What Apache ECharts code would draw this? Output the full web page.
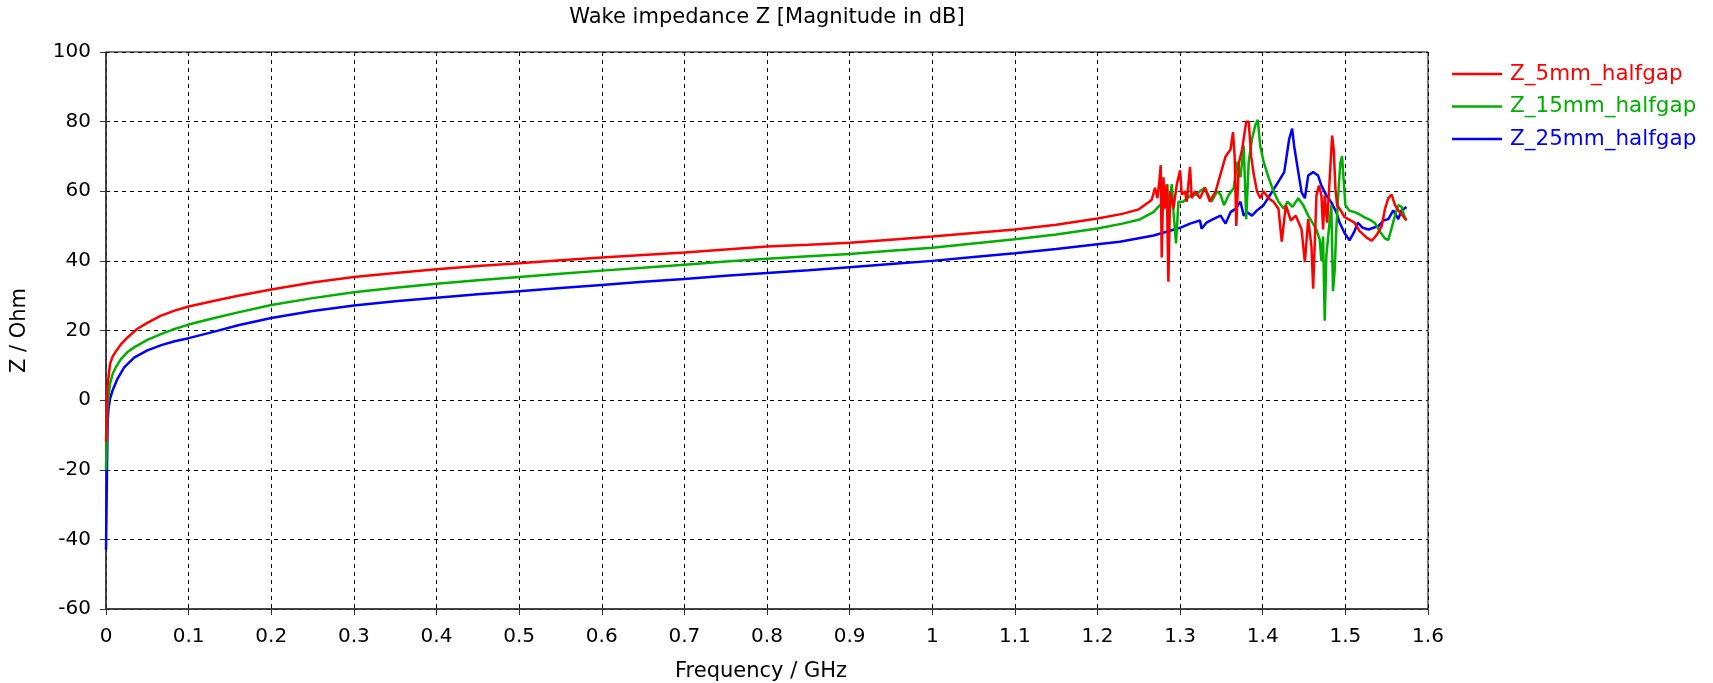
<!DOCTYPE html>
<html>
<head>
<meta charset="utf-8">
<title>Wake impedance Z</title>
<script src="https://cdn.jsdelivr.net/npm/echarts@6/dist/echarts.min.js"></script>
<style>
  html, body { margin: 0; padding: 0; background: #fff; }
  #chart { width: 1713px; height: 683px; }
</style>
</head>
<body>
<div id="chart"></div>
<script>
// Wake impedance magnitude (dB) vs. frequency (GHz), three half-gap widths.
const seriesNames = ['Z_5mm_halfgap', 'Z_15mm_halfgap', 'Z_25mm_halfgap'];
const seriesColors = ['#ff0000', '#00b000', '#0000ff'];

// [frequency GHz, Z dB]
const z5mm = [
  [0, -12], [0.0008, -8], [0.0015, 3], [0.003, 6.5], [0.005, 10.5], [0.008, 12.5], [0.012, 14],
  [0.018, 16], [0.026, 18], [0.038, 20.5], [0.05, 22.2], [0.066, 24.2], [0.083, 25.7], [0.1, 26.9],
  [0.13, 28.5], [0.16, 30], [0.2, 31.8], [0.25, 33.8], [0.3, 35.4], [0.35, 36.5], [0.4, 37.6],
  [0.45, 38.5], [0.5, 39.3], [0.55, 40.2], [0.6, 41], [0.65, 41.7], [0.7, 42.4], [0.75, 43.3],
  [0.8, 44.1], [0.85, 44.6], [0.9, 45.2], [0.95, 46.1], [1.0, 47], [1.05, 48], [1.1, 49],
  [1.15, 50.4], [1.2, 52.2], [1.23, 53.5], [1.25, 54.8], [1.2656, 57.5], [1.2696, 61], [1.2725, 58],
  [1.2749, 63], [1.2765, 67.5], [1.2777, 41], [1.2798, 64], [1.2818, 55], [1.2838, 62], [1.2858, 34],
  [1.2879, 60], [1.2919, 55], [1.296, 62], [1.3, 66], [1.302, 59], [1.306, 60], [1.308, 57],
  [1.312, 67], [1.314, 58], [1.318, 60], [1.324, 58], [1.33, 61], [1.336, 57], [1.343, 60],
  [1.349, 65], [1.355, 70], [1.361, 72], [1.364, 77], [1.366, 70], [1.368, 50], [1.371, 68],
  [1.375, 72], [1.38, 80], [1.383, 80], [1.386, 70], [1.389, 65], [1.393, 60], [1.397, 58],
  [1.401, 60], [1.407, 58], [1.413, 57], [1.419, 55], [1.423, 45.5], [1.428, 56], [1.434, 51.6],
  [1.44, 53], [1.447, 49], [1.451, 39.6], [1.455, 52], [1.459, 44], [1.461, 32], [1.465, 58.8],
  [1.468, 61.6], [1.471, 58.8], [1.473, 49], [1.475, 58.8], [1.478, 51], [1.481, 63.6], [1.484, 76],
  [1.486, 71.6], [1.488, 60.6], [1.49, 56], [1.493, 55], [1.499, 52.6], [1.505, 51.8], [1.511, 51],
  [1.517, 48.6], [1.526, 46.6], [1.532, 45.8], [1.538, 47.5], [1.544, 50], [1.548, 55], [1.552, 58],
  [1.556, 59], [1.56, 56], [1.564, 54.5], [1.568, 53.4], [1.574, 51.6]
];

const z15mm = [
  [0, -20], [0.0008, -12], [0.0015, -3], [0.003, 1], [0.005, 4.8], [0.008, 7.5], [0.012, 9.5],
  [0.018, 11.8], [0.026, 13.8], [0.035, 15.3], [0.05, 17.3], [0.065, 18.8], [0.08, 20.2], [0.1, 21.7],
  [0.13, 23.5], [0.16, 25.2], [0.2, 27.3], [0.25, 29.3], [0.3, 31], [0.35, 32.3], [0.4, 33.4],
  [0.45, 34.4], [0.5, 35.4], [0.55, 36.3], [0.6, 37.2], [0.65, 38], [0.7, 38.9], [0.75, 39.8],
  [0.8, 40.6], [0.85, 41.3], [0.9, 42], [0.95, 42.9], [1.0, 43.8], [1.05, 45], [1.1, 46.2],
  [1.15, 47.6], [1.2, 49.3], [1.23, 50.7], [1.25, 51.8], [1.2676, 54], [1.2798, 57], [1.283, 59],
  [1.2846, 62], [1.2858, 50], [1.2879, 59], [1.29, 62], [1.292, 54], [1.295, 45], [1.298, 57],
  [1.304, 57], [1.308, 58], [1.314, 59], [1.32, 59], [1.324, 60], [1.33, 61], [1.334, 59],
  [1.338, 57], [1.345, 60], [1.349, 59], [1.353, 56], [1.359, 59], [1.365, 61], [1.369, 68.5],
  [1.373, 64], [1.377, 73], [1.38, 52], [1.383, 68.5], [1.387, 75], [1.391, 79], [1.394, 80.5],
  [1.397, 73], [1.401, 68.5], [1.407, 64], [1.413, 60], [1.419, 57], [1.4255, 55], [1.43, 57],
  [1.436, 55.5], [1.443, 58], [1.449, 56], [1.455, 53], [1.461, 50.6], [1.465, 49], [1.469, 46],
  [1.471, 40], [1.473, 47], [1.475, 22.8], [1.477, 41.6], [1.48, 49], [1.483, 56], [1.485, 31.3],
  [1.487, 37], [1.489, 49], [1.492, 61.6], [1.494, 68.3], [1.496, 70], [1.498, 63], [1.5, 56],
  [1.505, 54.4], [1.511, 54], [1.517, 53.4], [1.523, 52.5], [1.53, 51.8], [1.536, 50.8], [1.542, 48.3],
  [1.548, 46.4], [1.552, 46], [1.556, 49.5], [1.56, 53], [1.564, 56], [1.568, 55.5], [1.572, 52.4],
  [1.574, 52]
];

const z25mm = [
  [0, -43], [0.0006, -32], [0.0012, -20], [0.002, -6], [0.003, -2.5], [0.005, 0.5], [0.008, 2.8],
  [0.014, 6.2], [0.022, 9.4], [0.034, 12.2], [0.05, 14.3], [0.067, 15.8], [0.083, 16.9], [0.1, 17.8],
  [0.13, 19.6], [0.16, 21.5], [0.2, 23.6], [0.25, 25.6], [0.3, 27.2], [0.35, 28.4], [0.4, 29.4],
  [0.45, 30.4], [0.5, 31.3], [0.55, 32.2], [0.6, 33.1], [0.65, 34], [0.7, 34.8], [0.75, 35.7],
  [0.8, 36.5], [0.85, 37.3], [0.9, 38.2], [0.95, 39.1], [1.0, 40], [1.05, 41.1], [1.1, 42.2],
  [1.15, 43.4], [1.2, 44.8], [1.227, 45.5], [1.268, 47.3], [1.3, 49.5], [1.312, 50.7], [1.324, 51.6],
  [1.326, 49.2], [1.332, 51], [1.34, 52], [1.349, 53], [1.355, 50.7], [1.361, 54], [1.367, 55],
  [1.373, 57], [1.377, 53], [1.381, 54], [1.387, 53], [1.393, 54.5], [1.401, 56], [1.409, 59],
  [1.417, 62], [1.426, 65.5], [1.432, 75], [1.4356, 78], [1.438, 73], [1.443, 65.5], [1.447, 59.7],
  [1.451, 58], [1.455, 64.5], [1.461, 65.5], [1.467, 64.5], [1.471, 61.6], [1.477, 58.8], [1.483, 56.8],
  [1.489, 54], [1.493, 51], [1.499, 48], [1.505, 45.9], [1.511, 48.5], [1.515, 51], [1.521, 49.5],
  [1.528, 49], [1.534, 49.5], [1.54, 50], [1.546, 51.6], [1.552, 52], [1.558, 54.5], [1.564, 52],
  [1.568, 54.5], [1.574, 55.5]
];

const seriesData = [z5mm, z15mm, z25mm];

const FONT = 'DejaVu Sans';
const chart = echarts.init(document.getElementById('chart'), null, { renderer: 'canvas' });

chart.setOption({
  animation: false,
  backgroundColor: '#ffffff',
  title: {
    text: 'Wake impedance Z [Magnitude in dB]',
    left: 767,
    top: 7,
    padding: 0,
    textAlign: 'center',
    textStyle: { fontFamily: FONT, fontSize: 21, fontWeight: 'normal', color: '#000' }
  },
  legend: {
    orient: 'vertical',
    left: 1452,
    top: 63,
    padding: 0,
    icon: 'rect',
    itemWidth: 50,
    itemHeight: 2.5,
    itemGap: 10.5,
    textStyle: { fontFamily: FONT, fontSize: 21.5, lineHeight: 22, padding: [0, 0, 0, 3] },
    data: seriesNames.map((n, i) => ({ name: n, textStyle: { color: seriesColors[i] } }))
  },
  grid: {
    left: 106, right: 285, top: 52, bottom: 74,
    outerBoundsMode: 'none',
    show: true, borderColor: '#000', borderWidth: 1, containLabel: false
  },
  xAxis: {
    type: 'value',
    min: 0, max: 1.6, interval: 0.1,
    name: 'Frequency / GHz',
    nameLocation: 'middle',
    nameGap: 52,
    nameTextStyle: { fontFamily: FONT, fontSize: 21, color: '#000', padding: [0, 12, 0, 0] },
    axisLine: { show: true, onZero: false, lineStyle: { color: '#333', width: 1.5 } },
    axisTick: { show: true, length: 6, lineStyle: { color: '#333' } },
    axisLabel: { fontFamily: FONT, fontSize: 20, color: '#000', margin: 18 },
    splitLine: { show: true, lineStyle: { color: '#000', type: [4, 4], width: 1 } }
  },
  yAxis: {
    type: 'value',
    min: -60, max: 100, interval: 20,
    name: 'Z / Ohm',
    nameLocation: 'middle',
    nameRotate: 90,
    nameGap: 76,
    nameTextStyle: { fontFamily: FONT, fontSize: 21, color: '#000' },
    axisLine: { show: true, onZero: false, lineStyle: { color: '#333', width: 1.5 } },
    axisTick: { show: true, length: 6, lineStyle: { color: '#333' } },
    axisLabel: { fontFamily: FONT, fontSize: 20, color: '#000', margin: 15 },
    splitLine: { show: true, lineStyle: { color: '#000', type: [4, 4], width: 1 } }
  },
  series: seriesNames.map((n, i) => ({
    name: n,
    type: 'line',
    data: seriesData[i],
    showSymbol: false,
    symbol: 'none',
    color: seriesColors[i],
    lineStyle: { color: seriesColors[i], width: 2.5 },
    z: 3 - i
  }))
});
</script>
</body>
</html>
